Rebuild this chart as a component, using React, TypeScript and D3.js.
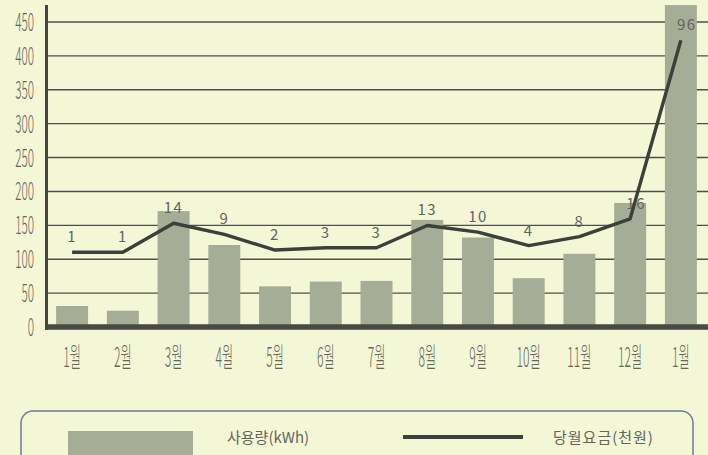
import React from 'react';
import * as d3 from 'd3';

// 월별 전력 사용량 (kWh) 과 당월요금 (천원)
const months = ['1월', '2월', '3월', '4월', '5월', '6월', '7월', '8월', '9월', '10월', '11월', '12월', '1월 '];
const usage = [31, 24, 171, 121, 60, 67, 68, 158, 132, 72, 108, 183, 475];
const fee = [1, 1, 14, 9, 2, 3, 3, 13, 10, 4, 8, 16, 96];
const yTicks = [0, 50, 100, 150, 200, 250, 300, 350, 400, 450];

const W = 708, H = 455;
const BG = '#f4f7d5';
const BAR = '#a6ad96';
const LINE = '#3b403a';
const TEXT = '#63655f';
const FONT = '"Noto Sans CJK KR", "Noto Sans", sans-serif';

const App = () => {
  const x = d3.scaleBand<string>().domain(months).range([47, 706]).paddingInner(0.37).paddingOuter(0.18);
  const y = d3.scaleLinear().domain([0, 450]).range([327, 22]);
  // 요금은 보조 눈금 (표시 안 됨) - 0천원이 약 107kWh 높이, 96천원이 약 423kWh 높이
  const y2 = d3.scaleLinear().domain([0, 96]).range([y(107), y(423)]);

  const cx = (m: string) => (x(m) as number) + x.bandwidth() / 2;

  const line = d3.line<number>()
    .x((d, i) => cx(months[i]))
    .y(d => y2(d));

  return (
    <svg width={W} height={H} style={{ position: 'absolute', left: 0, top: 0, background: BG }}>
      <rect width={W} height={H} fill={BG} />

      {/* grid */}
      {yTicks.filter(t => t > 0).map(t => (
        <line key={t} x1={47} x2={W} y1={y(t)} y2={y(t)} stroke="#4e4f4a" strokeWidth={1.4} />
      ))}

      {/* y tick labels, condensed */}
      {yTicks.map(t => (
        <g key={t} transform={`translate(34,${y(t) + 9}) scale(0.47,1)`}>
          <text textAnchor="end" fontFamily={FONT} fontWeight={300} fontSize={25} fill={TEXT}>{t}</text>
        </g>
      ))}

      {/* bars */}
      {usage.map((v, i) => (
        <rect key={i} x={x(months[i])} y={y(v)} width={x.bandwidth()} height={y(0) - y(v)} fill={BAR} />
      ))}

      {/* axes */}
      <line x1={46.5} x2={46.5} y1={5} y2={330} stroke="#454641" strokeWidth={3} />
      <line x1={45} x2={W} y1={327} y2={327} stroke="#484944" strokeWidth={5.5} />

      {/* x labels */}
      {months.map(m => (
        <g key={m} transform={`translate(${cx(m)},367) scale(0.45,1)`}>
          <text textAnchor="middle" fontFamily={FONT} fontWeight={300} fontSize={27} fill={TEXT}>{m.trim()}</text>
        </g>
      ))}

      {/* fee labels */}
      {fee.map((v, i) => (
        <text key={i} x={cx(months[i]) + (i >= 11 ? 6 : 0)} y={y2(v) - 10} textAnchor="middle"
          fontFamily={FONT} fontSize={15} letterSpacing={1.5} fill={TEXT}>{v}</text>
      ))}

      {/* fee line */}
      <path d={line(fee) ?? ''} fill="none" stroke={LINE} strokeWidth={3.4} strokeLinejoin="round" />

      {/* legend */}
      <rect x={21} y={411} width={672} height={70} rx={12} fill="none" stroke="#6d7b96" strokeWidth={1.5} />
      <rect x={68} y={431} width={125} height={30} fill={BAR} />
      <text x={227} y={443} fontFamily={FONT} fontSize={15} fill={TEXT}>사용량(kWh)</text>
      <line x1={403} x2={523} y1={437} y2={437} stroke={LINE} strokeWidth={4} />
      <text x={553} y={443} fontFamily={FONT} fontSize={15} letterSpacing={1} fill={TEXT}>당월요금(천원)</text>
    </svg>
  );
};

export default App;
